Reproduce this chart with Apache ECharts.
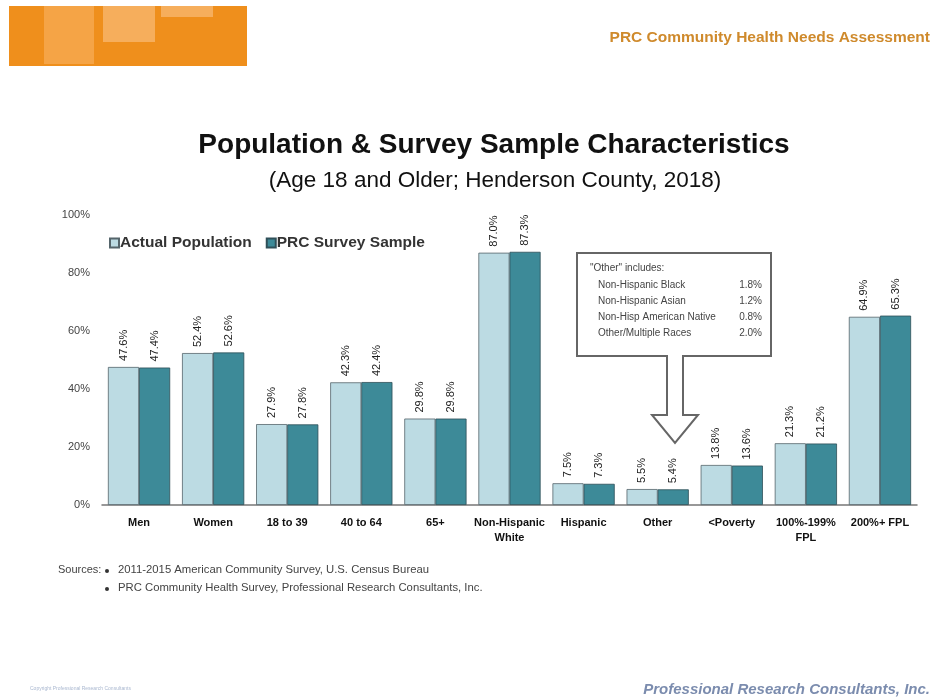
<!DOCTYPE html>
<html lang="en">
<head>
    <meta charset="UTF-8">
    <title>Population & Survey Sample Characteristics</title>
    <script src="https://cdn.jsdelivr.net/npm/echarts@6/dist/echarts.min.js"></script>
    <style>
        body { margin: 0; background: #fff; }
    </style>
</head>
<body>
<div id="chartmain" style="width:935px; height:700px;"></div>
<script type="text/javascript">

    var categories = ['Men', 'Women', '18 to 39', '40 to 64', '65+', 'Non-Hispanic\nWhite',
        'Hispanic', 'Other', '<Poverty', '100%-199%\nFPL', '200%+ FPL'];
    var actualPopulation = [47.6, 52.4, 27.9, 42.3, 29.8, 87.0, 7.5, 5.5, 13.8, 21.3, 64.9];   // light bars
    var surveySample = [47.4, 52.6, 27.8, 42.4, 29.8, 87.3, 7.3, 5.4, 13.6, 21.2, 65.3];       // dark bars
    var yTicks = [0, 20, 40, 60, 80, 100];
    var otherNames = ['Non-Hispanic Black', 'Non-Hispanic Asian', 'Non-Hisp American Native', 'Other/Multiple Races'];
    var otherValues = ['1.8%', '1.2%', '0.8%', '2.0%'];
    var sources = ['2011-2015 American Community Survey, U.S. Census Bureau',
        'PRC Community Health Survey, Professional Research Consultants, Inc.'];

    var narrow = '"Liberation Sans Narrow", "Arial Narrow", "Liberation Sans", Arial, sans-serif';
    var sans = '"Liberation Sans", Arial, sans-serif';

    var valueLabel = {
        show: true,
        position: 'top',
        rotate: 90,
        distance: 6,
        align: 'left',
        verticalAlign: 'middle',
        fontFamily: narrow,
        fontSize: 11,
        color: '#222',
        formatter: function (p) { return p.value.toFixed(1) + '%'; }
    };

    // callout box text lines
    var boxGraphics = [];
    boxGraphics.push({
        type: 'text', left: 590, top: 263,
        style: { text: '"Other" includes:', font: '10px ' + narrow, fill: '#444' }
    });
    for (var i = 0; i < otherNames.length; i++) {
        boxGraphics.push({
            type: 'text', left: 598, top: 280 + i * 16,
            style: { text: otherNames[i], font: '10px ' + narrow, fill: '#444' }
        });
        boxGraphics.push({
            type: 'text', right: 935 - 762, top: 280 + i * 16,
            style: { text: otherValues[i], font: '10px ' + narrow, fill: '#444', align: 'right' }
        });
    }

    var sourceGraphics = [{
        type: 'text', left: 58, top: 564,
        style: { text: 'Sources:', font: '11px ' + sans, fill: '#444' }
    }];
    for (var j = 0; j < sources.length; j++) {
        sourceGraphics.push({
            type: 'circle', shape: { cx: 107, cy: 571 + j * 18, r: 2 },
            style: { fill: '#333' }
        });
        sourceGraphics.push({
            type: 'text', left: 118, top: 564 + j * 18,
            style: { text: sources[j], font: '11.3px ' + sans, fill: '#444' }
        });
    }

    var option = {
        backgroundColor: '#fff',
        animation: false,
        title: [{
            text: 'Population & Survey Sample Characteristics',
            left: 489, top: 126, textAlign: 'center',
            textStyle: { fontFamily: sans, fontSize: 28, fontWeight: 'bold', color: '#111' }
        }, {
            text: '(Age 18 and Older; Henderson County, 2018)',
            left: 490, top: 164, textAlign: 'center',
            textStyle: { fontFamily: sans, fontSize: 22.5, fontWeight: 'normal', color: '#111' }
        }],
        legend: {
            left: 104, top: 230,
            icon: 'rect',
            itemWidth: 9, itemHeight: 9, itemGap: 14,
            textStyle: { fontFamily: sans, fontSize: 15.5, fontWeight: 'bold', color: '#333', padding: [0, 0, 0, -4] },
            data: ['Actual Population', 'PRC Survey Sample']
        },
        grid: { left: 102, right: 18, top: 215, bottom: 195 },
        xAxis: {
            type: 'category',
            data: categories,
            axisLine: { lineStyle: { color: '#777', width: 1.5 } },
            axisTick: { show: false },
            axisLabel: {
                interval: 0, margin: 10, lineHeight: 15,
                fontFamily: narrow, fontSize: 11, fontWeight: 'bold', color: '#111'
            }
        },
        yAxis: {
            type: 'value',
            min: 0, max: 100, interval: 20,
            splitLine: { show: false },
            axisLine: { show: false },
            axisTick: { show: false },
            axisLabel: {
                margin: 12, fontFamily: narrow, fontSize: 11, color: '#444',
                formatter: function (v) { return yTicks.indexOf(v) >= 0 ? v + '%' : ''; }
            }
        },
        series: [{
            name: 'Actual Population',
            type: 'bar',
            data: actualPopulation,
            barGap: '0%',
            barCategoryGap: '16%',
            itemStyle: { color: '#bcdbe3', borderColor: '#55656b', borderWidth: 0.8 },
            label: valueLabel
        }, {
            name: 'PRC Survey Sample',
            type: 'bar',
            data: surveySample,
            itemStyle: { color: '#3d8a98', borderColor: '#2f4f58', borderWidth: 0.8 },
            label: valueLabel
        }],
        graphic: [
            // orange header block
            { type: 'rect', shape: { x: 9, y: 6, width: 238, height: 60 }, style: { fill: '#ef8f1c' } },
            { type: 'rect', shape: { x: 44, y: 6, width: 50, height: 58 }, style: { fill: '#f5a446' } },
            { type: 'rect', shape: { x: 103, y: 6, width: 52, height: 36 }, style: { fill: '#f6ae5c' } },
            { type: 'rect', shape: { x: 161, y: 6, width: 52, height: 11 }, style: { fill: '#f6ae5c' } },
            {
                type: 'text', right: 5, top: 30,
                style: { text: 'PRC Community Health Needs Assessment', font: 'bold 15.5px ' + sans, fill: '#cf8a2c' }
            },
            // callout box with arrow
            {
                type: 'polygon',
                shape: {
                    points: [[577, 253], [771, 253], [771, 356], [683, 356], [683, 415], [698, 415],
                        [675, 443], [652, 415], [667, 415], [667, 356], [577, 356]]
                },
                style: { fill: '#fff', stroke: '#666', lineWidth: 2 }
            }
        ].concat(boxGraphics).concat(sourceGraphics).concat([
            {
                type: 'text', left: 30, top: 686,
                style: { text: 'Copyright Professional Research Consultants', font: '5px ' + sans, fill: '#aab8d0' }
            },
            {
                type: 'text', right: 5, top: 682,
                style: { text: 'Professional Research Consultants, Inc.', font: 'italic bold 15px ' + sans, fill: '#7b8cae' }
            }
        ])
    };

    var myChart = echarts.init(document.getElementById('chartmain'));
    myChart.setOption(option);

</script>
</body>
</html>
